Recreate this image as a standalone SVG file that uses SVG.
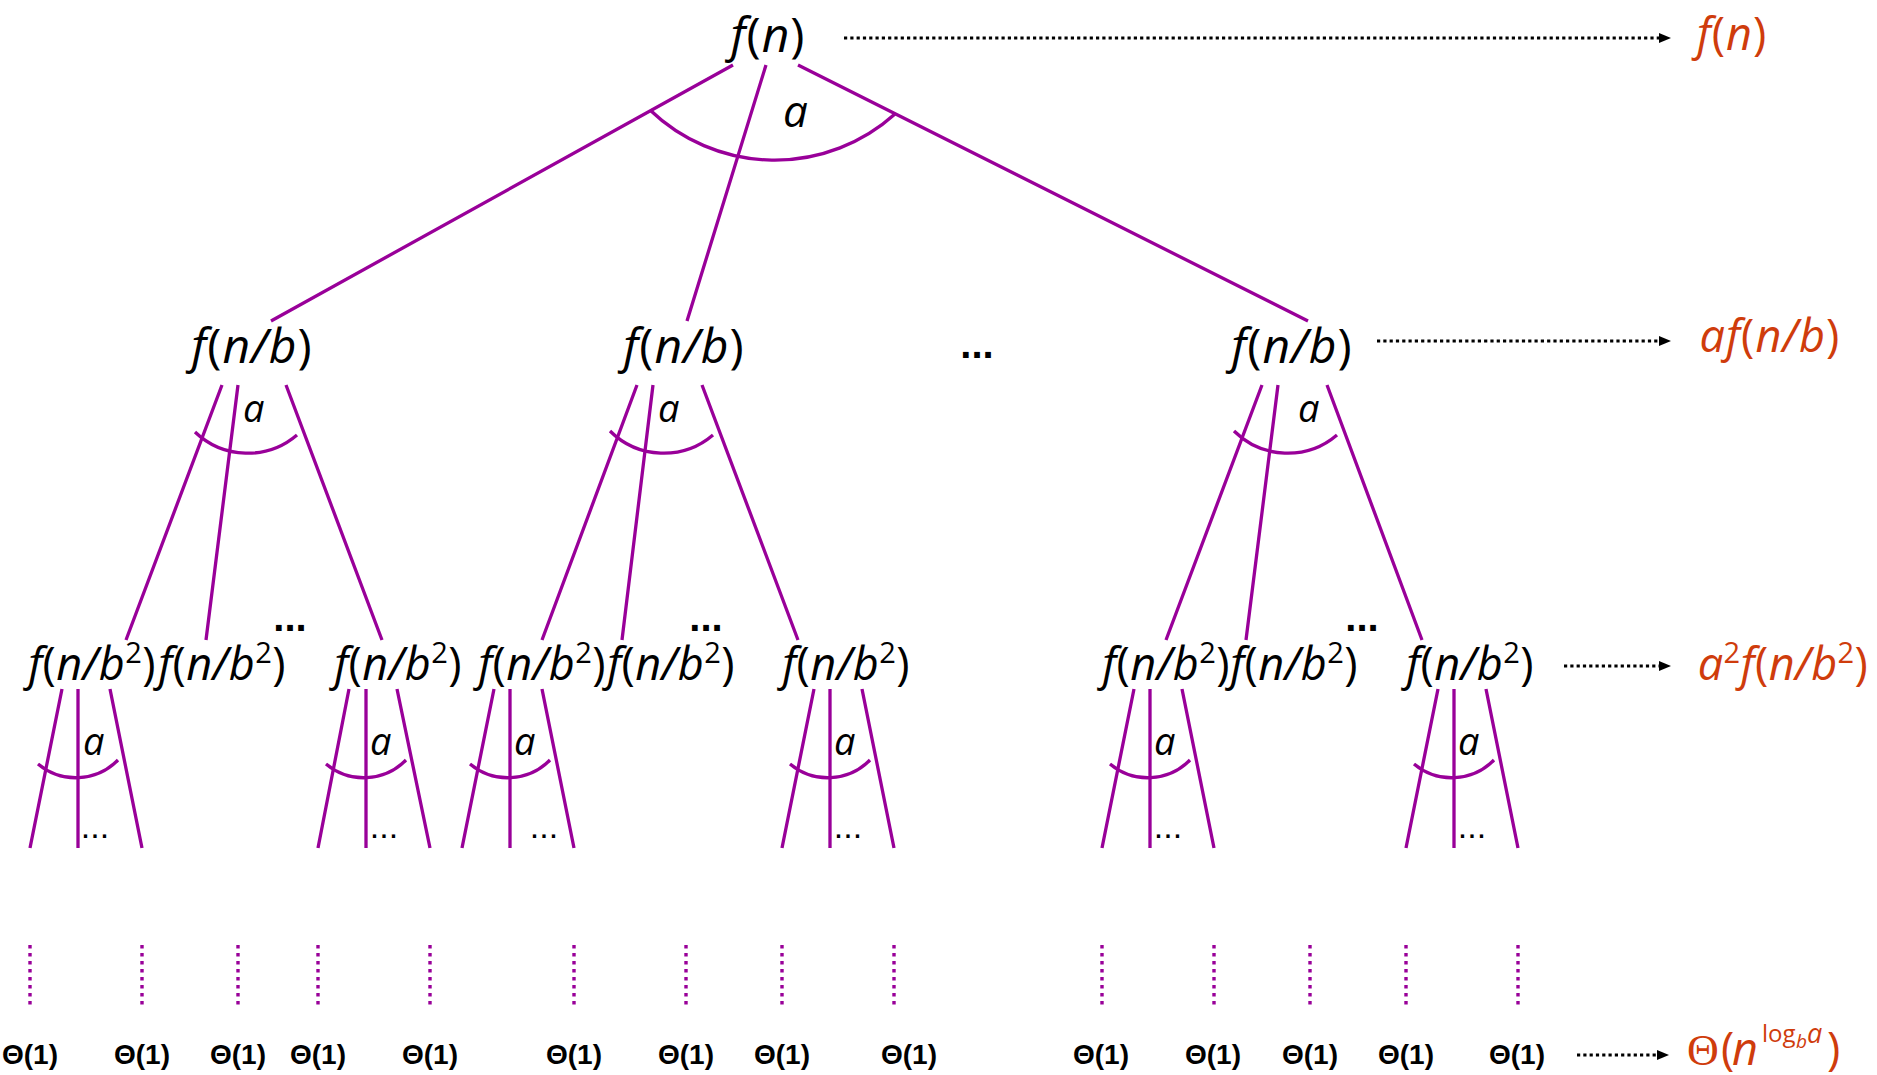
<svg xmlns="http://www.w3.org/2000/svg" width="1877" height="1075" viewBox="0 0 1877 1075">
<style>
.e{font-family:"Open Sans","Noto Sans",sans-serif;font-style:italic;font-size:48px;fill:#000;letter-spacing:1px;text-anchor:middle}
.e2{font-size:45px;letter-spacing:0.4px}
.up{font-style:normal}
.sup{font-style:normal;font-size:29px}
.r{fill:#CF3C0C;font-size:45px}
.al{font-family:"Open Sans","Noto Sans",sans-serif;font-style:italic;font-size:38px;fill:#000}
.al0{font-size:44px}
.ed{font-family:"Liberation Sans",Arial,sans-serif;font-weight:bold;font-size:40px;text-anchor:middle}
.es{font-family:"Liberation Sans",Arial,sans-serif;font-size:34px;text-anchor:middle}
.th{font-family:"Liberation Sans",Arial,sans-serif;font-weight:bold;font-size:28px;text-anchor:middle}
.ln{stroke:#990099;stroke-width:3.3;fill:none}
.vd{stroke:#990099;stroke-width:3.4;stroke-dasharray:3.4 4.6;fill:none}
.ar{stroke:#000;stroke-width:3.2;stroke-dasharray:3.2 3.1;fill:none;marker-end:url(#ah)}
</style>
<defs>
<marker id="ah" markerUnits="userSpaceOnUse" markerWidth="12" markerHeight="10" refX="0" refY="5" orient="auto">
<path d="M0,0 L12,5 L0,10 z" fill="#000"/>
</marker>
</defs>

<g id="connectors">
  <path class="ln" d="M733,65 L271,321 M766,65 L687,321 M798,65 L1308,321"/>
  <path class="ln" d="M650,110 A180,180 0 0 0 895,114"/>
  <path class="ln" d="M222,385 L126,640 M238,385 L206,640 M286,385 L382,640"/>
  <path class="ln" d="M195,432 A76,76 0 0 0 297,435"/>
  <path class="ln" d="M637,385 L542,640 M653,385 L622,640 M702,385 L798,640"/>
  <path class="ln" d="M610,431 A76,76 0 0 0 713,435"/>
  <path class="ln" d="M1262,385 L1166,640 M1278,385 L1246,640 M1327,385 L1422,640"/>
  <path class="ln" d="M1234,431 A76,76 0 0 0 1337,435"/>
  <path class="ln" d="M62,689 L30,848 M78,689 L78,848 M110,689 L142,848"/>
  <path class="ln" d="M38,764 A59,59 0 0 0 118,760"/>
  <path class="ln" d="M349,689 L318,848 M366,689 L366,848 M397,689 L430,848"/>
  <path class="ln" d="M326,764 A59,59 0 0 0 406,760"/>
  <path class="ln" d="M494,689 L462,848 M510,689 L510,848 M542,689 L574,848"/>
  <path class="ln" d="M470,764 A59,59 0 0 0 550,760"/>
  <path class="ln" d="M814,689 L782,848 M830,689 L830,848 M862,689 L894,848"/>
  <path class="ln" d="M790,764 A59,59 0 0 0 870,760"/>
  <path class="ln" d="M1134,689 L1102,848 M1150,689 L1150,848 M1182,689 L1214,848"/>
  <path class="ln" d="M1110,764 A59,59 0 0 0 1190,760"/>
  <path class="ln" d="M1438,689 L1406,848 M1454,689 L1454,848 M1486,689 L1518,848"/>
  <path class="ln" d="M1414,764 A59,59 0 0 0 1494,760"/>
  <path class="vd" d="M30,945 V1004.4 M142,945 V1004.4 M238,945 V1004.4 M318,945 V1004.4 M430,945 V1004.4 M574,945 V1004.4 M686,945 V1004.4 M782,945 V1004.4 M894,945 V1004.4 M1102,945 V1004.4 M1214,945 V1004.4 M1310,945 V1004.4 M1406,945 V1004.4 M1518,945 V1004.4"/>
  <path class="ar" d="M844,38 H1659"/>
  <path class="ar" d="M1377,341 H1659"/>
  <path class="ar" d="M1564,666 H1659"/>
  <path class="ar" d="M1577,1055 H1657"/>
</g>

<g id="branch-labels">
  <text class="al al0" x="783" y="127">a</text>
  <text class="al" x="243" y="422">a</text>
  <text class="al" x="658" y="422">a</text>
  <text class="al" x="1298" y="422">a</text>
  <text class="al" x="83" y="755">a</text>
  <text class="al" x="370" y="755">a</text>
  <text class="al" x="514" y="755">a</text>
  <text class="al" x="834" y="755">a</text>
  <text class="al" x="1154" y="755">a</text>
  <text class="al" x="1458" y="755">a</text>
</g>

<g id="root"><text class="e" x="768" y="52">f<tspan class="up">(</tspan>n<tspan class="up">)</tspan></text></g>

<g id="l1-left"><text class="e" x="252" y="363">f<tspan class="up">(</tspan>n/b<tspan class="up">)</tspan></text></g>
<g id="l1-mid"><text class="e" x="684" y="363">f<tspan class="up">(</tspan>n/b<tspan class="up">)</tspan></text></g>
<g id="l1-right"><text class="e" x="1292" y="363">f<tspan class="up">(</tspan>n/b<tspan class="up">)</tspan></text></g>
<g id="l1-ellipsis"><text class="ed" x="977" y="358">...</text></g>

<g id="l2-a1"><text class="e e2" x="92" y="680">f<tspan class="up">(</tspan>n/b<tspan class="sup" dy="-17">2</tspan><tspan class="up" dy="17">)</tspan></text></g>
<g id="l2-a2"><text class="e e2" x="222" y="680">f<tspan class="up">(</tspan>n/b<tspan class="sup" dy="-17">2</tspan><tspan class="up" dy="17">)</tspan></text></g>
<g id="l2-a-ellipsis"><text class="ed" x="290" y="631">...</text></g>
<g id="l2-a3"><text class="e e2" x="398" y="680">f<tspan class="up">(</tspan>n/b<tspan class="sup" dy="-17">2</tspan><tspan class="up" dy="17">)</tspan></text></g>
<g id="l2-b1"><text class="e e2" x="542" y="680">f<tspan class="up">(</tspan>n/b<tspan class="sup" dy="-17">2</tspan><tspan class="up" dy="17">)</tspan></text></g>
<g id="l2-b2"><text class="e e2" x="671" y="680">f<tspan class="up">(</tspan>n/b<tspan class="sup" dy="-17">2</tspan><tspan class="up" dy="17">)</tspan></text></g>
<g id="l2-b-ellipsis"><text class="ed" x="706" y="631">...</text></g>
<g id="l2-b3"><text class="e e2" x="846" y="680">f<tspan class="up">(</tspan>n/b<tspan class="sup" dy="-17">2</tspan><tspan class="up" dy="17">)</tspan></text></g>
<g id="l2-c1"><text class="e e2" x="1166" y="680">f<tspan class="up">(</tspan>n/b<tspan class="sup" dy="-17">2</tspan><tspan class="up" dy="17">)</tspan></text></g>
<g id="l2-c2"><text class="e e2" x="1294" y="680">f<tspan class="up">(</tspan>n/b<tspan class="sup" dy="-17">2</tspan><tspan class="up" dy="17">)</tspan></text></g>
<g id="l2-c-ellipsis"><text class="ed" x="1362" y="631">...</text></g>
<g id="l2-c3"><text class="e e2" x="1470" y="680">f<tspan class="up">(</tspan>n/b<tspan class="sup" dy="-17">2</tspan><tspan class="up" dy="17">)</tspan></text></g>

<g id="l3-ellipses">
  <text class="es" x="95" y="838">...</text>
  <text class="es" x="384" y="838">...</text>
  <text class="es" x="544" y="838">...</text>
  <text class="es" x="848" y="838">...</text>
  <text class="es" x="1168" y="838">...</text>
  <text class="es" x="1472" y="838">...</text>
</g>

<g id="leaves">
  <text class="th" x="30" y="1064">Θ(1)</text>
  <text class="th" x="142" y="1064">Θ(1)</text>
  <text class="th" x="238" y="1064">Θ(1)</text>
  <text class="th" x="318" y="1064">Θ(1)</text>
  <text class="th" x="430" y="1064">Θ(1)</text>
  <text class="th" x="574" y="1064">Θ(1)</text>
  <text class="th" x="686" y="1064">Θ(1)</text>
  <text class="th" x="782" y="1064">Θ(1)</text>
  <text class="th" x="909" y="1064">Θ(1)</text>
  <text class="th" x="1101" y="1064">Θ(1)</text>
  <text class="th" x="1213" y="1064">Θ(1)</text>
  <text class="th" x="1310" y="1064">Θ(1)</text>
  <text class="th" x="1406" y="1064">Θ(1)</text>
  <text class="th" x="1517" y="1064">Θ(1)</text>
</g>

<g id="sums">
  <text class="e r" x="1732" y="50">f<tspan class="up">(</tspan>n<tspan class="up">)</tspan></text>
  <text class="e r" x="1770" y="352">af<tspan class="up">(</tspan>n/b<tspan class="up">)</tspan></text>
  <text class="e r" style="letter-spacing:0.4px" x="1783" y="680">a<tspan class="sup" dy="-17">2</tspan><tspan dy="17">f</tspan><tspan class="up">(</tspan>n/b<tspan class="sup" dy="-17">2</tspan><tspan class="up" dy="17">)</tspan></text>
  <text class="e r" style="text-anchor:start;letter-spacing:0" y="1065"><tspan x="1687" font-family="Liberation Serif" font-style="normal" font-size="44">Θ</tspan><tspan x="1721" class="up">(</tspan><tspan x="1732">n</tspan><tspan x="1762" y="1042" class="up" font-size="24">log</tspan><tspan x="1796" y="1048" font-size="19">b</tspan><tspan x="1807" y="1043" font-size="27">a</tspan><tspan x="1827" y="1065" class="up">)</tspan></text>
</g>
</svg>
